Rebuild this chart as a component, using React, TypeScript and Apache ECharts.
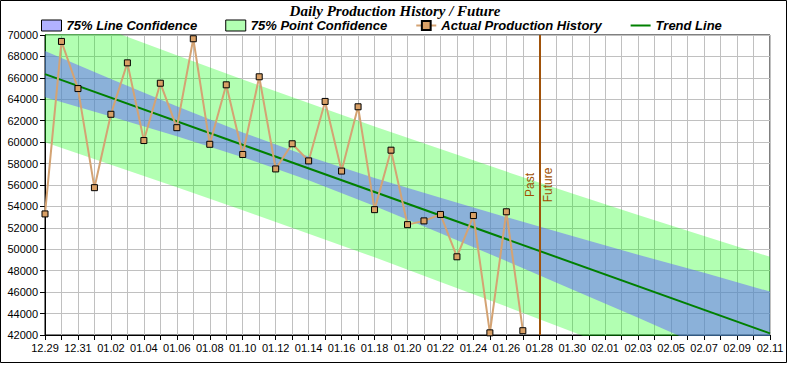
import { useEffect, useRef } from 'react';
import * as echarts from 'echarts';

const dates = [
  '12.29', '12.30', '12.31',
  '01.01', '01.02', '01.03', '01.04', '01.05', '01.06', '01.07', '01.08', '01.09', '01.10',
  '01.11', '01.12', '01.13', '01.14', '01.15', '01.16', '01.17', '01.18', '01.19', '01.20',
  '01.21', '01.22', '01.23', '01.24', '01.25', '01.26', '01.27', '01.28', '01.29', '01.30', '01.31',
  '02.01', '02.02', '02.03', '02.04', '02.05', '02.06', '02.07', '02.08', '02.09', '02.10', '02.11',
];

const actualValues = [
  53300, 69400, 65000, 55750, 62600, 67400, 60150, 65500, 61350, 69650,
  59800, 65350, 58850, 66100, 57500, 59850, 58250, 63800, 57300, 63300,
  53700, 59250, 52300, 52650, 53250, 49300, 53150, 42200, 53500, 42400,
];

const trendDates = ['12.29', '02.11'];
const trendValues = [66350, 42150];

const bandDates = ['12.29', '01.02', '01.06', '01.10', '01.14', '01.18', '01.22', '01.26', '01.30', '02.03', '02.07', '02.11'];
const lineConfLower = [64200, 62400, 60550, 58600, 56450, 54050, 51500, 48900, 46250, 43600, 40900, 38250];
const lineConfUpper = [68500, 65900, 63350, 60900, 58650, 56650, 54800, 53000, 51250, 49500, 47800, 46050];
const pointConfLower = [60000, 57900, 55800, 53650, 51450, 49250, 46950, 44650, 42300, 39900, 37450, 35000];
const pointConfUpper = [72700, 70400, 68100, 65850, 63650, 61450, 59350, 57250, 55200, 53200, 51250, 49300];

const boundaryDate = '01.28';

const yTicks = { min: 42000, max: 70000, interval: 2000 };

const SANS = "'Liberation Sans', Arial, sans-serif";
const SERIF = "'Liberation Serif', 'Times New Roman', serif";

const BLUE = 'rgba(100,100,255,0.5)';
const GREEN = 'rgba(0,255,0,0.3)';

export default function App() {
  const ref = useRef<HTMLDivElement>(null);

  useEffect(() => {
    if (!ref.current) return;
    const chart = echarts.init(ref.current, undefined, { renderer: 'svg' });
    const idx = (d: string) => dates.indexOf(d);
    const bandX = bandDates.map(idx);

    // value first, day index second, so that the stack is computed on the value dimension
    const bandBase = (lower: number[]) => bandX.map((x, i) => [lower[i], x]);
    const bandSpan = (lower: number[], upper: number[]) => bandX.map((x, i) => [upper[i] - lower[i], x]);
    const enc = { x: 1, y: 0 };

    const option: any = {
      animation: false,
      backgroundColor: '#fff',
      title: {
        text: 'Daily Production History / Future',
        left: 'center',
        top: -2,
        textStyle: { fontFamily: SERIF, fontSize: 15, fontWeight: 'bold', fontStyle: 'italic', color: '#000' },
      },
      legend: {
        top: 14,
        left: 36,
        itemWidth: 20,
        itemHeight: 11,
        itemGap: 28,
        textStyle: { fontFamily: SANS, fontSize: 13, fontWeight: 'bold', fontStyle: 'italic', color: '#000' },
        data: [
          { name: '75% Line Confidence', icon: 'rect', itemStyle: { color: BLUE, borderColor: '#000', borderWidth: 1 } },
          { name: '75% Point Confidence', icon: 'rect', itemStyle: { color: GREEN, borderColor: '#000', borderWidth: 1 } },
          { name: 'Actual Production History', lineStyle: { color: '#d4a373', width: 2 } },
          { name: 'Trend Line', itemStyle: { opacity: 0 }, lineStyle: { color: '#008000', width: 2 } },
        ],
      },
      grid: {
        left: 45, right: 20, top: 35, bottom: 30,
        show: true, borderColor: '#000', borderWidth: 1, backgroundColor: '#fff',
      },
      xAxis: {
        type: 'value',
        min: 0,
        max: dates.length - 1,
        interval: 1,
        axisLine: { lineStyle: { color: '#000', width: 1 } },
        axisTick: { show: true, length: 5, lineStyle: { color: '#000' } },
        axisLabel: {
          color: '#000', fontFamily: SANS, fontSize: 11, margin: 7,
          formatter: (v: number) => (v % 2 === 0 ? dates[v] : ''),
        },
        splitLine: { show: true, lineStyle: { color: '#c0c0c0', width: 1 } },
      },
      yAxis: {
        type: 'value',
        min: yTicks.min,
        max: yTicks.max,
        interval: yTicks.interval,
        axisLine: { show: true, lineStyle: { color: '#000', width: 1 } },
        axisTick: { show: true, length: 5, lineStyle: { color: '#000' } },
        axisLabel: { color: '#000', fontFamily: SANS, fontSize: 11, margin: 7, formatter: (v: number) => String(v) },
        splitLine: { show: true, lineStyle: { color: '#c0c0c0', width: 1 } },
      },
      series: [
        {
          name: 'pointBase', type: 'line', stack: 'point', silent: true, symbol: 'none',
          encode: enc,
          lineStyle: { opacity: 0 },
          data: bandBase(pointConfLower),
        },
        {
          name: '75% Point Confidence', type: 'line', stack: 'point', silent: true, symbol: 'none',
          encode: enc,
          itemStyle: { color: GREEN },
          lineStyle: { opacity: 0 },
          areaStyle: { color: GREEN, opacity: 1 },
          data: bandSpan(pointConfLower, pointConfUpper),
        },
        {
          name: 'lineBase', type: 'line', stack: 'line', silent: true, symbol: 'none',
          encode: enc,
          lineStyle: { opacity: 0 },
          data: bandBase(lineConfLower),
        },
        {
          name: '75% Line Confidence', type: 'line', stack: 'line', silent: true, symbol: 'none',
          encode: enc,
          itemStyle: { color: BLUE },
          lineStyle: { opacity: 0 },
          areaStyle: { color: BLUE, opacity: 1 },
          data: bandSpan(lineConfLower, lineConfUpper),
        },
        {
          name: 'Trend Line', type: 'line', symbol: 'none',
          itemStyle: { color: '#008000' },
          lineStyle: { color: '#008000', width: 2 },
          data: trendDates.map((d, i) => [idx(d), trendValues[i]]),
          markLine: {
            silent: true,
            symbol: ['none', 'none'],
            lineStyle: { color: '#a0520a', width: 2, type: 'solid' },
            label: { color: '#a05000', fontFamily: SANS, fontSize: 12 },
            data: [
              { xAxis: idx(boundaryDate), label: { formatter: 'Past', position: 'insideMiddleTop', distance: 3 } },
              { xAxis: idx(boundaryDate), label: { formatter: 'Future', position: 'insideMiddleBottom', distance: 3 } },
            ],
          },
        },
        {
          name: 'Actual Production History', type: 'line',
          symbol: 'rect', symbolSize: 6,
          itemStyle: { color: '#d9a066', borderColor: '#000', borderWidth: 1 },
          lineStyle: { color: '#d4a373', width: 2 },
          z: 5,
          data: actualValues.map((v, i) => [i, v]),
        },
      ],
      graphic: [
        {
          type: 'rect', silent: true, z: 100,
          shape: { x: 0.5, y: 0.5, width: 786, height: 362 },
          style: { fill: 'none', stroke: '#000', lineWidth: 1 },
        },
      ],
    };

    chart.setOption(option);
    return () => chart.dispose();
  }, []);

  return <div ref={ref} style={{ position: 'fixed', left: 0, top: 0, width: 790, height: 365 }} />;
}
